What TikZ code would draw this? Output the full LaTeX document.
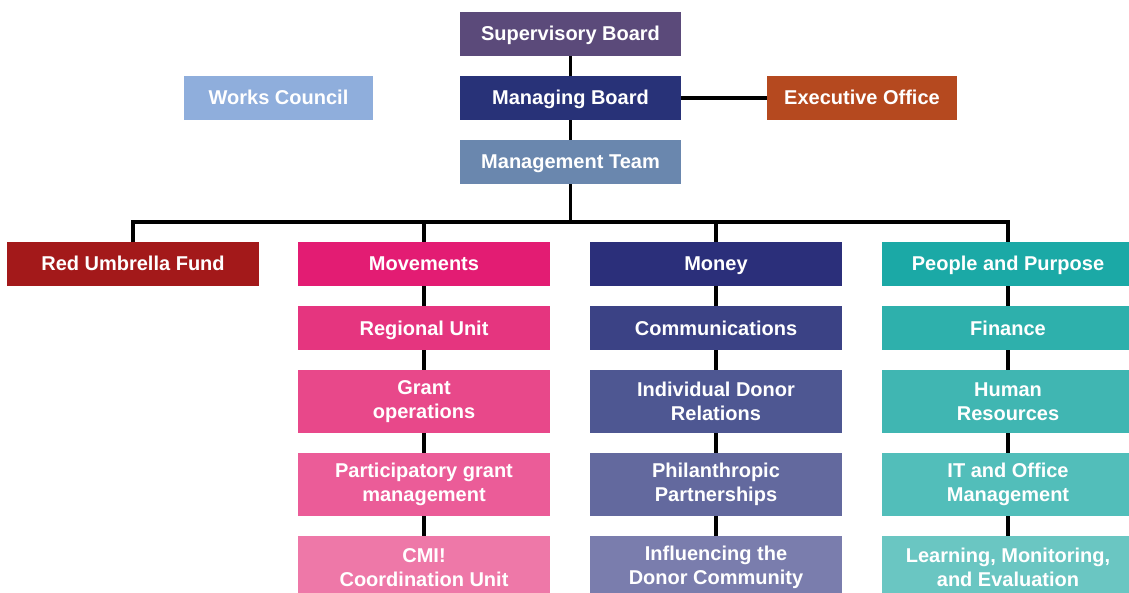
\documentclass[tikz,border=0pt]{standalone}
\usepackage{fontspec}
\setmainfont{Liberation Sans}
\begin{document}
\begin{tikzpicture}[x=1pt,y=-1pt,
  unit/.style={rectangle, inner sep=0pt, minimum width=252pt, minimum height=44pt,
    text=white, align=center, text height=14pt, text depth=0pt,
    font=\bfseries\fontsize{20}{23.5}\selectfont},
  tall/.style={unit, minimum height=63pt, text height=, text depth=},
  top/.style={unit, minimum width=221pt},
  link/.style={draw=black, line width=3.2pt}]
\useasboundingbox (0,0) rectangle (1129,593);
\clip (0,0) rectangle (1129,593);

% governance
\node[top, fill={rgb,255:red,91;green,74;blue,122}] (sb) at (570.5,34) {Supervisory Board};
\node[top, fill={rgb,255:red,40;green,50;blue,120}] (mb) at (570.5,98) {Managing Board};
\node[top, fill={rgb,255:red,106;green,135;blue,174}] (mt) at (570.5,162) {Management Team};
\node[unit, minimum width=190pt, fill={rgb,255:red,181;green,73;blue,31}] (eo) at (862,98) {Executive Office};
\node[unit, minimum width=189pt, fill={rgb,255:red,143;green,174;blue,220}] (wc) at (278.5,98) {Works Council};

% departments
\node[unit, fill={rgb,255:red,163;green,25;blue,26}] (ruf) at (133,264) {Red Umbrella Fund};

\node[unit, fill={rgb,255:red,227;green,28;blue,115}] (mov) at (424,264) {Movements};
\node[unit, fill={rgb,255:red,229;green,53;blue,127}] (reg) at (424,328) {Regional Unit};
\node[tall, fill={rgb,255:red,232;green,72;blue,138}] (gop) at (424,401.5) {Grant\\operations};
\node[tall, fill={rgb,255:red,235;green,92;blue,152}] (pgm) at (424,484.5) {Participatory grant\\management};
\node[tall, fill={rgb,255:red,238;green,120;blue,168}] (cmi) at (424,567.5) {CMI!\\Coordination Unit};

\node[unit, fill={rgb,255:red,43;green,47;blue,122}] (mon) at (716,264) {Money};
\node[unit, fill={rgb,255:red,59;green,66;blue,133}] (com) at (716,328) {Communications};
\node[tall, fill={rgb,255:red,78;green,87;blue,146}] (idr) at (716,401.5) {Individual Donor\\Relations};
\node[tall, fill={rgb,255:red,99;green,105;blue,158}] (php) at (716,484.5) {Philanthropic\\Partnerships};
\node[tall, fill={rgb,255:red,122;green,125;blue,173}] (idc) at (716,567.5) {Influencing the\\Donor Community};

\node[unit, fill={rgb,255:red,27;green,169;blue,166}] (pp) at (1008,264) {People and Purpose};
\node[unit, fill={rgb,255:red,46;green,176;blue,172}] (fin) at (1008,328) {Finance};
\node[tall, fill={rgb,255:red,64;green,182;blue,178}] (hr) at (1008,401.5) {Human\\Resources};
\node[tall, fill={rgb,255:red,82;green,190;blue,186}] (ito) at (1008,484.5) {IT and Office\\Management};
\node[tall, fill={rgb,255:red,106;green,198;blue,194}] (lme) at (1008,567.5) {Learning, Monitoring,\\and Evaluation};

% connectors
\coordinate (bus) at (570.5,222);
\draw[link] (sb.south) -- (mb.north);
\draw[link] (mb.south) -- (mt.north);
\draw[link] (mb.east) -- (eo.west);
\draw[link] (mt.south) -- (bus);
\draw[link] (ruf.north) |- (bus) -| (pp.north);
\draw[link] (mov.north) -- (mov.north |- bus);
\draw[link] (mon.north) -- (mon.north |- bus);
\foreach \a/\b in {mov/reg, reg/gop, gop/pgm, pgm/cmi,
                   mon/com, com/idr, idr/php, php/idc,
                   pp/fin, fin/hr, hr/ito, ito/lme}
  \draw[link] (\a.south) -- (\b.north);
\end{tikzpicture}
\end{document}
